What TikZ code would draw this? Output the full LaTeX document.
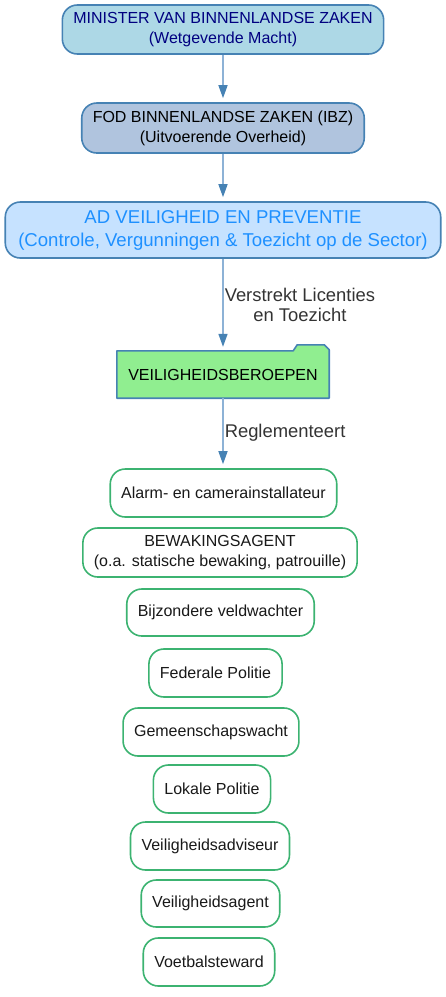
\documentclass[tikz,border=0pt]{standalone}
\usepackage{fontspec}
\setmainfont{Liberation Sans}
\usetikzlibrary{arrows.meta,backgrounds}
\definecolor{steelblue}{HTML}{4682B4}
\definecolor{lightblue}{HTML}{ADD8E6}
\definecolor{lightsteel}{HTML}{B0C4DE}
\definecolor{adblue}{HTML}{C6E2FF}
\definecolor{dodger}{HTML}{1E90FF}
\definecolor{navyblue}{HTML}{000080}
\definecolor{lightgreen}{HTML}{90EE90}
\definecolor{seagreen}{HTML}{3CB371}
\definecolor{arrowline}{HTML}{8DB2D6}
\definecolor{labelgray}{HTML}{333333}

\begin{document}
\begin{tikzpicture}[x=1pt,y=-1pt,
    box/.style={draw, rectangle, rounded corners=15pt, line width=1.6pt, align=center,
      inner xsep=11pt, inner ysep=0pt, font=\fontsize{16}{20}\selectfont},
    topbox/.style={box, draw=steelblue, minimum height=49pt},
    beroep/.style={box, draw=seagreen, fill=white, text=black!90, minimum height=48pt},
    flow/.style={draw=arrowline, line width=1.5pt,
      -{Triangle[length=13pt,width=9pt,color=steelblue]}, shorten >=4pt},
    flowlabel/.style={midway, right, inner sep=1pt, align=center, text=labelgray,
      font=\fontsize{18.4}{20.5}\selectfont}]
    \useasboundingbox (0,0) rectangle (446,997);

    \node[topbox, fill=lightblue, text=navyblue] (minister) at (223,29.5)
    {MINISTER VAN BINNENLANDSE ZAKEN\\(Wetgevende Macht)};
    \node[topbox, fill=lightsteel, minimum height=50pt] (fod) at (223,128)
    {FOD BINNENLANDSE ZAKEN (IBZ)\\(Uitvoerende Overheid)};
    \node[topbox, fill=adblue, text=dodger, minimum height=56pt, inner xsep=13pt,
    font=\fontsize{18.6}{23}\selectfont] (ad) at (223,230)
    {AD VEILIGHEID EN PREVENTIE\\(Controle, Vergunningen \& Toezicht op de Sector)};

    % map with tab
    \node[font=\fontsize{16}{20}\selectfont, minimum width=212pt, minimum height=47pt,
    inner sep=0pt] (beroepen) at (223,374.5) {VEILIGHEIDSBEROEPEN};
    \begin{scope}[on background layer]
        \filldraw[fill=lightgreen, draw=steelblue, line width=1.6pt, line join=round]
        (beroepen.south west) -- (beroepen.north west)
        -- ([xshift=-36pt]beroepen.north east)
        -- ([xshift=-32pt,yshift=6pt]beroepen.north east)
        -- ([xshift=-5pt,yshift=6pt]beroepen.north east)
        -- ([yshift=1pt]beroepen.north east)
        -- (beroepen.south east) -- cycle;
    \end{scope}

    \node[beroep] (alarm) at (223.5,493) {Alarm- en camerainstallateur};
    \node[beroep, minimum height=49pt] (bewaking) at (220,552.5)
    {BEWAKINGSAGENT\\(o.a. statische bewaking, patrouille)};
    \node[beroep, minimum height=47pt] (bijzonder) at (220.5,612.5) {Bijzondere veldwachter};
    \node[beroep] (federaal) at (215.5,673) {Federale Politie};
    \node[beroep] (gemeenschap) at (211,732) {Gemeenschapswacht};
    \node[beroep] (lokaal) at (212,789) {Lokale Politie};
    \node[beroep] (adviseur) at (210,846) {Veiligheidsadviseur};
    \node[beroep, minimum height=47pt] (agent) at (210.5,903.5) {Veiligheidsagent};
    \node[beroep] (steward) at (209,962) {Voetbalsteward};

    \draw[flow] (minister) -- (fod);
    \draw[flow] (fod) -- (ad);
    \draw[flow] (ad) -- (beroepen) node[flowlabel] {Verstrekt Licenties\\en Toezicht};
    \draw[flow] (beroepen) -- (beroepen.south |- alarm.north) node[flowlabel] {Reglementeert};
\end{tikzpicture}
\end{document}
